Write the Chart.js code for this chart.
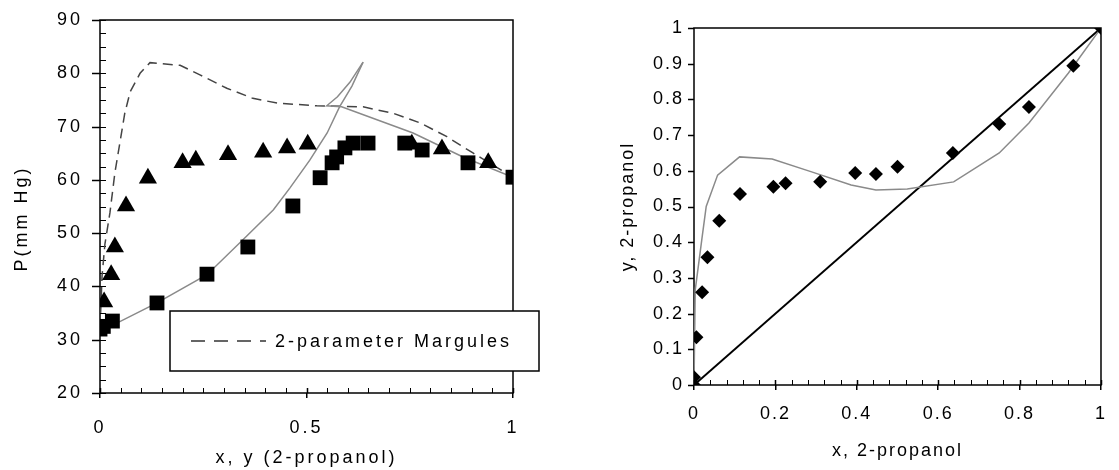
<!DOCTYPE html>
<html>
<head>
<meta charset="utf-8">
<script src="https://cdn.jsdelivr.net/npm/chart.js@4.4.1/dist/chart.umd.min.js"></script>
<style>
html, body { margin: 0; padding: 0; background: #fff; }
#izq { position: absolute; left: 0; top: 0; width: 560px; height: 470px; }
#der { position: absolute; left: 560px; top: 0; width: 559px; height: 470px; }
</style>
</head>
<body>
<div id="izq"><canvas id="presion"></canvas></div>
<div id="der"><canvas id="equilibrio"></canvas></div>
<script>
// grafica P-x-y (izquierda)
const liquidoX = [0, 0.008, 0.03, 0.138, 0.259, 0.358, 0.467, 0.533, 0.562, 0.573, 0.593, 0.613, 0.649, 0.738, 0.78, 0.891, 1];
const liquidoP = [32, 32.5, 33.5, 36.9, 42.3, 47.4, 55.1, 60.4, 63.2, 64.3, 66.0, 66.9, 66.9, 66.9, 65.6, 63.2, 60.5];
const vaporX = [0.01, 0.027, 0.036, 0.063, 0.116, 0.2, 0.232, 0.31, 0.395, 0.453, 0.503, 0.755, 0.828, 0.94];
const vaporP = [37.1, 42.2, 47.4, 55.1, 60.3, 63.2, 63.7, 64.7, 65.2, 66.0, 66.7, 66.7, 65.8, 63.2];
const burbujaX = [0, 0.048, 0.138, 0.259, 0.356, 0.42, 0.46, 0.508, 0.55, 0.58, 0.61, 0.637];
const burbujaP = [32, 33.4, 36.9, 42.2, 49.5, 54.4, 58.5, 63.7, 68.8, 73.7, 77.6, 82.1];
const rocioX = [1, 0.879, 0.758, 0.585, 0.549, 0.575, 0.605, 0.637];
const rocioP = [60.5, 64.3, 68.8, 73.7, 73.9, 75.6, 78.3, 82.1];
const margulesX = [0, 0.005, 0.012, 0.024, 0.036, 0.06, 0.073, 0.097, 0.121, 0.194, 0.242, 0.307, 0.37, 0.43, 0.525, 0.637, 0.71, 0.775, 0.84, 0.904, 1];
const margulesP = [32, 42, 48, 53.8, 61.3, 72.5, 76.5, 80, 82, 81.5, 79.7, 77.2, 75.3, 74.4, 73.9, 73.7, 72.5, 70.7, 68.1, 65, 60.5];
const leyendaTexto = "2-parameter Margules";

// grafica y-x (derecha)
const xExp = [0, 0, 0.006, 0.02, 0.033, 0.062, 0.113, 0.195, 0.225, 0.31, 0.396, 0.447, 0.5, 0.636, 0.75, 0.823, 0.932, 1];
const yExp = [0, 0.022, 0.134, 0.26, 0.358, 0.46, 0.535, 0.555, 0.565, 0.569, 0.594, 0.591, 0.611, 0.65, 0.731, 0.779, 0.894, 1];
const xModelo = [0, 0.003, 0.019, 0.03, 0.058, 0.112, 0.192, 0.289, 0.386, 0.447, 0.524, 0.638, 0.75, 0.823, 0.92, 1];
const yModelo = [0, 0.266, 0.406, 0.5, 0.588, 0.639, 0.633, 0.597, 0.56, 0.546, 0.549, 0.569, 0.65, 0.734, 0.874, 1];
const diagonal = [0, 1];

Chart.defaults.font.family = "'Liberation Sans', Arial, sans-serif";
Chart.defaults.color = '#000';
Chart.defaults.animation = false;

const pares = (xs, ys) => xs.map((x, i) => ({ x: x, y: ys[i] }));
const numero = (v) => String(Number(v.toFixed(2)));

// marco, marcas y espaciado de letras
const marco = {
    id: 'marco',
    beforeDraw(chart, args, opts) {
        chart.ctx.letterSpacing = opts.espaciado + 'px';
    },
    beforeDatasetsDraw(chart, args, opts) {
        const { ctx, chartArea, scales } = chart;
        ctx.save();
        ctx.strokeStyle = '#000';
        ctx.lineWidth = 1.5;
        ctx.strokeRect(chartArea.left, chartArea.top, chartArea.right - chartArea.left, chartArea.bottom - chartArea.top);
        ctx.beginPath();
        // marcas mayores del eje y, hacia fuera
        scales.y.ticks.forEach(t => {
            const py = Math.round(scales.y.getPixelForValue(t.value)) + 0.5;
            ctx.moveTo(chartArea.left - opts.mayorY, py);
            ctx.lineTo(chartArea.left, py);
        });
        // parte interior de las marcas mayores del eje x
        scales.x.ticks.forEach(t => {
            const px = Math.round(scales.x.getPixelForValue(t.value)) + 0.5;
            ctx.moveTo(px, chartArea.bottom);
            ctx.lineTo(px, chartArea.bottom - 5);
        });
        ctx.stroke();
        ctx.lineWidth = 1;
        ctx.beginPath();
        for (let v = scales.x.min; v <= scales.x.max + 1e-9; v += opts.menorX) {
            const px = Math.round(scales.x.getPixelForValue(v)) + 0.5;
            ctx.moveTo(px, chartArea.bottom);
            ctx.lineTo(px, chartArea.bottom - opts.largoX);
        }
        if (opts.menorY) {
            for (let v = scales.y.min; v <= scales.y.max + 1e-9; v += opts.menorY) {
                const py = Math.round(scales.y.getPixelForValue(v)) + 0.5;
                ctx.moveTo(chartArea.left, py);
                ctx.lineTo(chartArea.left + opts.largoY, py);
            }
        }
        ctx.stroke();
        ctx.restore();
    },
    afterDraw(chart, args, opts) {
        if (!opts.leyenda) return;
        const ctx = chart.ctx;
        ctx.save();
        ctx.fillStyle = '#fff';
        ctx.strokeStyle = '#000';
        ctx.lineWidth = 1.5;
        ctx.fillRect(170, 311, 369, 60);
        ctx.strokeRect(170, 311, 369, 60);
        ctx.setLineDash([14, 9]);
        ctx.strokeStyle = '#333';
        ctx.beginPath();
        ctx.moveTo(191, 341);
        ctx.lineTo(266, 341);
        ctx.stroke();
        ctx.setLineDash([]);
        ctx.fillStyle = '#000';
        ctx.font = "18px 'Liberation Sans', Arial, sans-serif";
        ctx.textBaseline = 'middle';
        ctx.letterSpacing = opts.espaciado + 'px';
        ctx.fillText(opts.leyenda, 275, 342);
        ctx.restore();
    }
};

new Chart(document.getElementById('presion'), {
    type: 'scatter',
    data: {
        datasets: [
            { data: pares(liquidoX, liquidoP), pointStyle: 'rect', pointRadius: 10.5, backgroundColor: '#000', borderColor: '#000', borderWidth: 0 },
            { data: pares(vaporX, vaporP), pointStyle: 'triangle', pointRadius: 10.5, backgroundColor: '#000', borderColor: '#000', borderWidth: 0 },
            { data: pares(burbujaX, burbujaP), showLine: true, pointRadius: 0, borderColor: '#8a8a8a', borderWidth: 1.5 },
            { data: pares(rocioX, rocioP), showLine: true, pointRadius: 0, borderColor: '#8a8a8a', borderWidth: 1.5 },
            { data: pares(margulesX, margulesP), showLine: true, pointRadius: 0, borderColor: '#444', borderWidth: 1.5, borderDash: [10, 6] }
        ]
    },
    options: {
        responsive: true,
        maintainAspectRatio: false,
        layout: { padding: { top: 20, right: 47, left: 0, bottom: 0 } },
        scales: {
            x: {
                type: 'linear', min: 0, max: 1,
                afterFit: (s) => { s.height = 77; },
                ticks: { stepSize: 0.5, padding: 19, font: { size: 18 }, callback: numero },
                grid: { drawOnChartArea: false, tickLength: 5, color: '#000', lineWidth: 1.5 },
                border: { display: false },
                title: { display: true, text: 'x, y (2-propanol)', font: { size: 18 }, padding: { top: 0, bottom: 1 } }
            },
            y: {
                min: 20, max: 90,
                afterFit: (s) => { s.width = 100; },
                ticks: { stepSize: 10, padding: 6, font: { size: 18 }, callback: numero },
                grid: { drawOnChartArea: false, tickLength: 11, tickColor: 'rgba(0,0,0,0)' },
                border: { display: false },
                title: { display: true, text: 'P(mm Hg)   ', font: { size: 18 }, padding: { top: 11, bottom: 0 } }
            }
        },
        plugins: {
            legend: { display: false },
            tooltip: { enabled: false },
            marco: { espaciado: 3, mayorY: 8, menorX: 0.05, largoX: 5, menorY: 2.5, largoY: 6, leyenda: leyendaTexto }
        }
    },
    plugins: [marco]
});

new Chart(document.getElementById('equilibrio'), {
    type: 'scatter',
    data: {
        datasets: [
            { data: pares(xExp, yExp), pointStyle: 'rectRot', pointRadius: 7, backgroundColor: '#000', borderColor: '#000', borderWidth: 0 },
            { data: pares(xModelo, yModelo), showLine: true, pointRadius: 0, borderColor: '#8a8a8a', borderWidth: 1.5 },
            { data: pares(diagonal, diagonal), showLine: true, pointRadius: 0, borderColor: '#000', borderWidth: 2 }
        ]
    },
    options: {
        responsive: true,
        maintainAspectRatio: false,
        layout: { padding: { top: 28, right: 13, left: 0, bottom: 0 } },
        scales: {
            x: {
                type: 'linear', min: 0, max: 1,
                afterFit: (s) => { s.height = 85; },
                ticks: { stepSize: 0.2, padding: 13, font: { size: 18 }, callback: numero },
                grid: { drawOnChartArea: false, tickLength: 5, color: '#000', lineWidth: 1.5 },
                border: { display: false },
                title: { display: true, text: 'x, 2-propanol', font: { size: 18 }, padding: { top: 0, bottom: 8 } }
            },
            y: {
                min: 0, max: 1,
                afterFit: (s) => { s.width = 134; },
                ticks: { stepSize: 0.1, padding: 4, font: { size: 18 }, callback: numero },
                grid: { drawOnChartArea: false, tickLength: 6, tickColor: 'rgba(0,0,0,0)' },
                border: { display: false },
                title: { display: true, text: 'y, 2-propanol', font: { size: 18 }, padding: { top: 57, bottom: 0 } }
            }
        },
        plugins: {
            legend: { display: false },
            tooltip: { enabled: false },
            marco: { espaciado: 2, mayorY: 6, menorX: 0.04, largoX: 5, menorY: 0, largoY: 0 }
        }
    },
    plugins: [marco]
});
</script>
</body>
</html>
